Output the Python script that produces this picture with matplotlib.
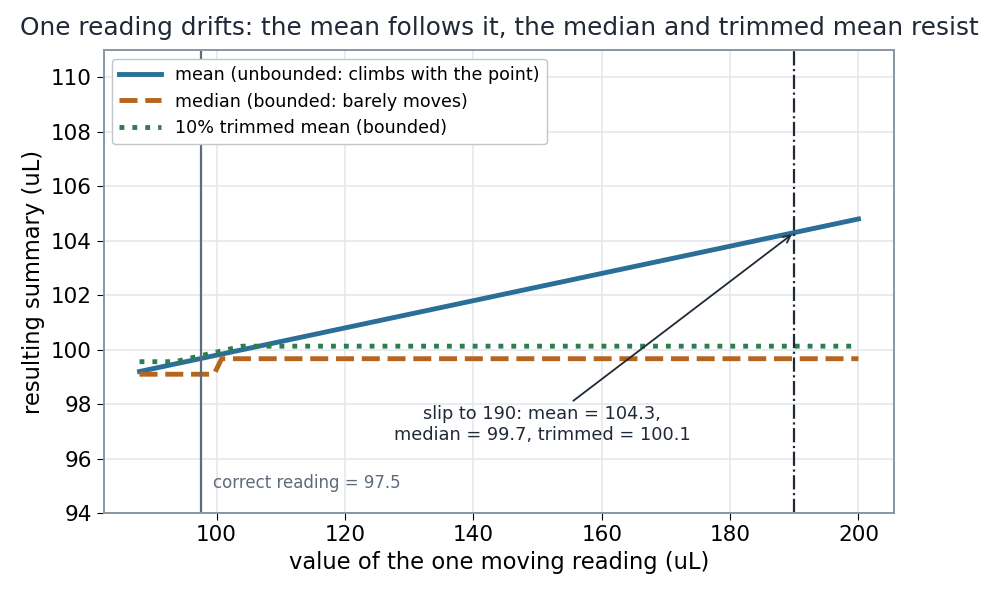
import matplotlib
matplotlib.use("Agg")
import matplotlib.pyplot as plt

# one moving reading: positions sampled along the sweep (uL)
x_mean = [88, 120, 150, 190, 200]
mean_vals = [99.2, 100.8, 102.3, 104.3, 104.8]

x_median = [88, 99.6, 100.8, 200]
median_vals = [99.1, 99.1, 99.67, 99.67]

x_trim = [88, 93.5, 104, 200]
trim_vals = [99.56, 99.56, 100.13, 100.13]

correct_reading = 97.5
slip_x = 190
slip_mean, slip_median, slip_trim = 104.3, 99.7, 100.1

dark = "#1f2937"
gray = "#5f6b7a"

fig, ax = plt.subplots(figsize=(9.96, 5.96), dpi=100)
fig.subplots_adjust(left=0.104, right=0.898, top=0.916, bottom=0.139)

ax.plot(x_mean, mean_vals, color="#2a6f97", lw=3.5, label="mean (unbounded: climbs with the point)")
ax.plot(x_median, median_vals, color="#b5651d", lw=3.5, ls="--", label="median (bounded: barely moves)")
ax.plot(x_trim, trim_vals, color="#2e7d4f", lw=3.5, ls=":", label="10% trimmed mean (bounded)")

ax.axvline(correct_reading, color=gray, lw=1.6)
ax.axvline(slip_x, color=dark, lw=1.6, ls="-.")

ax.text(correct_reading + 2, 95.1, f"correct reading = {correct_reading}", color=gray,
        fontsize=12, ha="left", va="center")
ax.annotate(f"slip to {slip_x}: mean = {slip_mean},\nmedian = {slip_median}, trimmed = {slip_trim}",
            xy=(slip_x, slip_mean), xytext=(150.7, 97.25), ha="center", va="center",
            fontsize=12.8, color=dark,
            arrowprops=dict(arrowstyle="->", color=dark, lw=1.3))

ax.set_xlim(82.4, 205.6)
ax.set_ylim(94, 111)
ax.set_yticks(range(94, 111, 2))
ax.set_xlabel("value of the one moving reading (uL)", fontsize=16.3)
ax.set_ylabel("resulting summary (uL)", fontsize=16.3)
ax.set_title("One reading drifts: the mean follows it, the median and trimmed mean resist",
             fontsize=17.8, color=dark, pad=11)
ax.tick_params(labelsize=15.5, length=5)
ax.grid(True, color="#e5e7eb", lw=1.2)
ax.set_axisbelow(True)
for s in ax.spines.values():
    s.set_color("#8a96a3")
    s.set_linewidth(1.4)

leg = ax.legend(loc="upper left", fontsize=12.6, framealpha=1, handlelength=2.4)
leg.get_frame().set_edgecolor("#c0c6cc")

fig.savefig("out.png", dpi=100)
